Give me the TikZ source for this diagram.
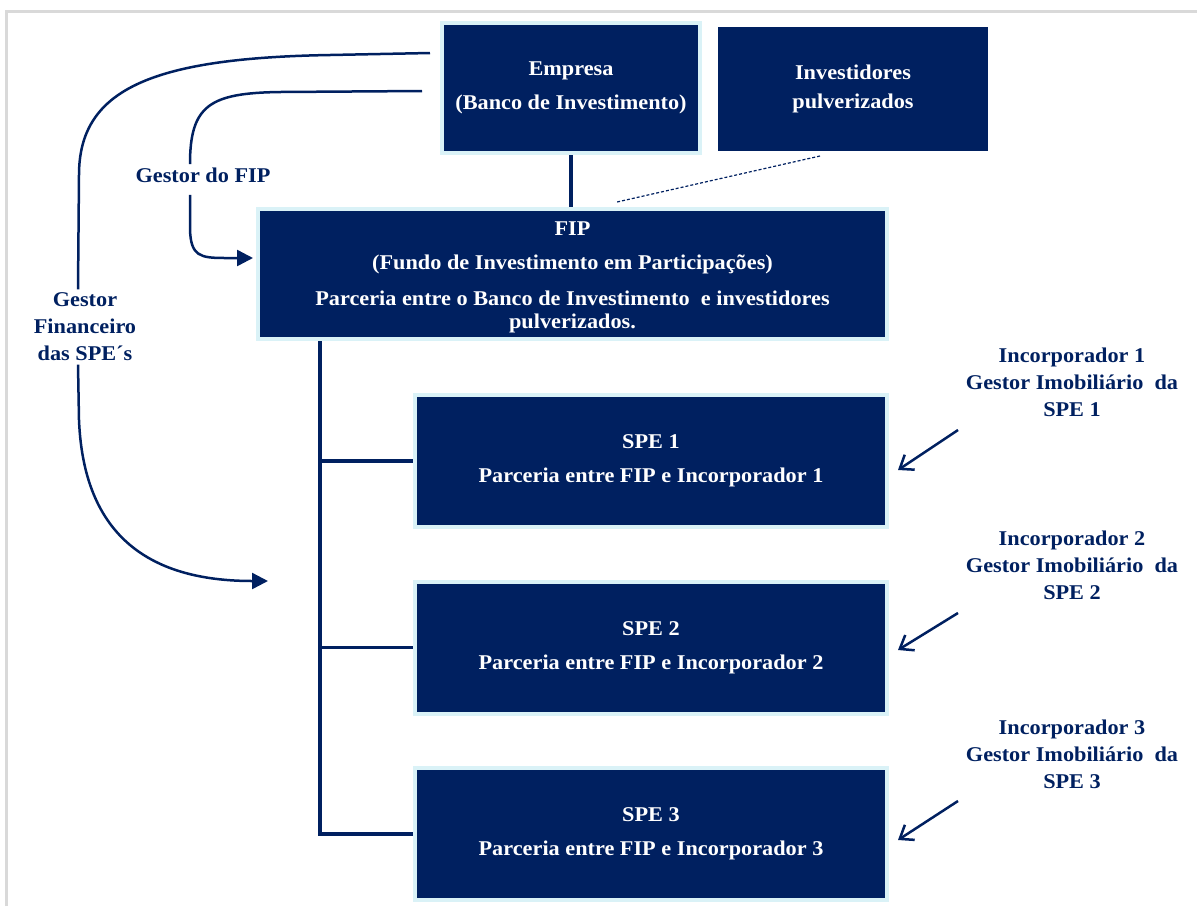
\documentclass[tikz,border=0pt]{standalone}
\usepackage{fontspec}
\setmainfont[FakeStretch=1.06]{Liberation Serif}
\usetikzlibrary{arrows.meta}
\definecolor{navy}{RGB}{0,32,96}
\definecolor{paleblue}{RGB}{218,242,247}
\definecolor{framegrey}{RGB}{217,217,217}

\begin{document}
\begin{tikzpicture}[x=1pt,y=-1pt,
	curve/.style={navy,line width=2.5pt},
	tip/.style={-{Triangle[length=16pt,width=16pt]}},
	barb/.style={navy,line width=2.5pt,-{Straight Barb[length=12pt,width=18pt]}}]
	
	\useasboundingbox (0,0) rectangle (1197,906);
	\draw[framegrey,line width=3pt] (6.5,906) -- (6.5,11.5) -- (1197,11.5);
	
	\begin{scope}[every node/.style={rectangle,fill=navy,draw=paleblue,line width=4pt,text=white,inner sep=0pt,align=center,font=\bfseries\fontsize{21}{23}\selectfont}]
	\node[minimum width=258pt,minimum height=130pt] (empresa) at (571,88) {Empresa\\[11pt](Banco de Investimento)};
	\node[draw=none,minimum width=270pt,minimum height=124pt] (investidores) at (853,89) {Investidores\\[6pt]pulverizados};
	\node[minimum width=629pt,minimum height=130pt] (fip) at (572.5,274) {\rule{0pt}{20pt}FIP\\[11pt](Fundo de Investimento em Participações)\\[13pt]Parceria entre o Banco de Investimento\ \ e investidores\\pulverizados.};
	\node[minimum width=472pt,minimum height=132pt] (spe 1) at (651,461) {SPE 1\\[11pt]Parceria entre FIP e Incorporador 1};
	\node[minimum width=472pt,minimum height=132pt] (spe 2) at (651,647.5) {SPE 2\\[11pt]Parceria entre FIP e Incorporador 2};
	\node[minimum width=472pt,minimum height=132pt] (spe 3) at (651,834) {SPE 3\\[11pt]Parceria entre FIP e Incorporador 3};
	\end{scope}
	
	\begin{scope}[every node/.style={text=navy,align=center,font=\bfseries\fontsize{21}{27}\selectfont}]
	\node (gestor fip) at (203,175) {Gestor do FIP};
	\node (gestor spe) at (85,327) {Gestor\\Financeiro\\das SPE´s};
	\node (incorp 1) at (1072,382) {Incorporador 1\\Gestor Imobiliário\ \ da\\SPE 1};
	\node (incorp 2) at (1072,565) {Incorporador 2\\Gestor Imobiliário\ \ da\\SPE 2};
	\node (incorp 3) at (1072,754) {Incorporador 3\\Gestor Imobiliário\ \ da\\SPE 3};
	\end{scope}
	
	\coordinate (trunk) at (320,341);
	\coordinate (inv foot) at (820,156);
	\coordinate (fip top) at (617,202);
	\coordinate (spe start) at (430,53);
	\coordinate (spe end) at (268,581);
	\coordinate (fip start) at (422,91);
	\coordinate (fip end) at (253,258);
	\coordinate (from 1) at (958,430);
	\coordinate (to 1) at (898,470);
	\coordinate (from 2) at (958,613);
	\coordinate (to 2) at (898,650);
	\coordinate (from 3) at (958,801);
	\coordinate (to 3) at (898,840);
	
	\begin{scope}[navy]
	\draw[line width=4pt] (empresa.south) -- (empresa.south |- fip.north);
	\draw[line width=1.2pt,dash pattern=on 3pt off 2pt] (inv foot) -- (fip top);
	\draw[line width=3.5pt] (trunk) |- (spe 3.west);
	\draw[line width=3.5pt] (trunk |- spe 1.west) -- (spe 1.west);
	\draw[line width=3.5pt] (trunk |- spe 2.west) -- (spe 2.west);
	
	\draw[curve] (spe start) -- (330,55) .. controls (150,58) and (79,90) .. (79,175) -- ([xshift=-7pt]gestor spe.north);
	\draw[curve,tip] ([xshift=-7pt]gestor spe.south) -- (79,420) .. controls (84,545) and (160,581) .. (spe end);
	\draw[curve] (fip start) -- (280,92) .. controls (210,93) and (190,105) .. ([xshift=-13pt]gestor fip.north);
	\draw[curve,tip] ([shift={(-13pt,-9pt)}]gestor fip.south) -- (190,230) .. controls (191,256) and (200,258) .. (225,258) -- (fip end);
	
	\draw[barb] (from 1) -- (to 1);
	\draw[barb] (from 2) -- (to 2);
	\draw[barb] (from 3) -- (to 3);
	\end{scope}
	
\end{tikzpicture}
\end{document}
